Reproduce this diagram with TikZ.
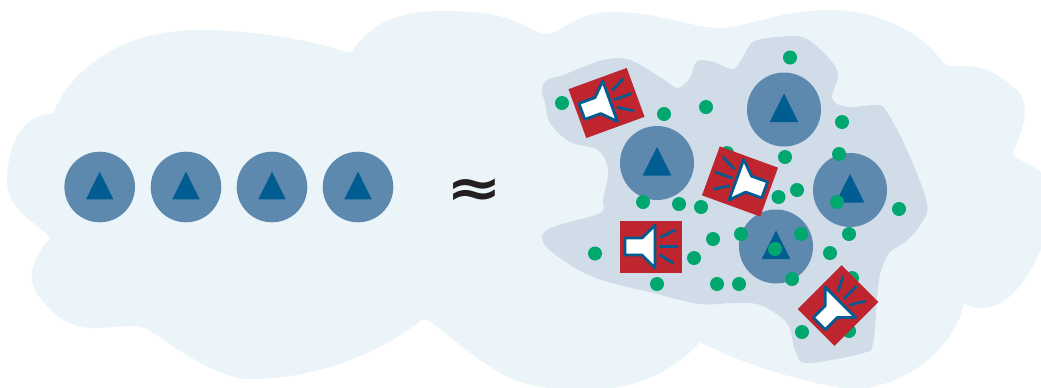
\documentclass[tikz,border=0pt]{standalone}
\usepackage{fontspec}
\newfontfamily\apxfont{DejaVu Sans}[BoldFont={DejaVu Sans Bold}]
\definecolor{cloudc}{HTML}{EAF4F9}
\definecolor{patchc}{HTML}{D0DCE7}
\definecolor{unitc}{HTML}{5E89AF}
\definecolor{triac}{HTML}{005C91}
\definecolor{dotc}{HTML}{00A76F}
\definecolor{boxc}{HTML}{BE252E}
\definecolor{inkc}{HTML}{231F20}
\tikzset{
  unit/.style={circle,fill=unitc,minimum size=70.6*0.75pt,inner sep=0pt,draw=none},
  bigunit/.style={circle,fill=unitc,minimum size=74*0.75pt,inner sep=0pt,draw=none},
  dotn/.style={circle,fill=dotc,minimum size=14*0.75pt,inner sep=0pt,draw=none},
  horn/.style={fill=white,draw=triac,line width=2.1pt,line join=round},
  ray/.style={draw=triac,line width=2pt,line cap=round},
  pics/tri/.style={code={\fill[triac] (0,-16) -- (14.3,12.5) -- (-14.3,12.5) -- cycle;}},
  pics/trismall/.style={code={\fill[triac] (0,-15.3) -- (13.7,12.3) -- (-13.7,12.3) -- cycle;}},
  pics/speaker/.style={code={
    \fill[boxc] (-31,-26) rectangle (31,26);
    \path[horn] (-26,-9) -- (-9,-9) -- (4,-22) -- (4,21) -- (-9,8) -- (-26,8) -- cycle;
    \path[ray] (10,-10) -- (24,-17);
    \path[ray] (9,-0.5) -- (26,-0.5);
    \path[ray] (9,8) -- (22,16);
  }}
}
\begin{document}
\begin{tikzpicture}[x=0.75pt,y=-0.75pt]
\useasboundingbox (0,0) rectangle (1041,387);
\fill[white] (0,0) rectangle (1041,387);
\begin{scope}
\clip (0,0) rectangle (1041,387);
\fill[cloudc] (53,114)
 .. controls (68,75) and (115,30) .. (200,30)
 .. controls (260,30) and (320,43) .. (346,52)
 .. controls (349,53) and (351,53) .. (353,50)
 .. controls (370,25) and (395,11) .. (443,11)
 .. controls (490,11) and (510,18) .. (525,26)
 .. controls (535,31) and (541,34) .. (547,34)
 .. controls (560,34) and (575,12) .. (613,12)
 .. controls (660,12) and (690,28) .. (720,28)
 .. controls (745,28) and (780,10) .. (830,10)
 .. controls (880,10) and (925,35) .. (943,63)
 .. controls (946,67) and (955,66) .. (965,66)
 .. controls (990,66) and (1005,80) .. (1017,90)
 .. controls (1030,105) and (1025,125) .. (1014,150)
 .. controls (1011,157) and (1014,157) .. (1020,160)
 .. controls (1030,165) and (1036,168) .. (1043,174)
 -- (1043,245)
 .. controls (1030,275) and (1010,308) .. (982,308)
 .. controls (976,308) and (970,306) .. (964,304)
 .. controls (955,340) and (925,372) .. (880,385)
 .. controls (865,390) and (850,390) .. (835,387)
 .. controls (790,378) and (740,363) .. (700,342)
 .. controls (670,375) and (630,390) .. (587,390)
 .. controls (560,390) and (535,387) .. (520,382)
 .. controls (485,370) and (445,330) .. (427,320)
 .. controls (425,318) and (423,318) .. (421,320)
 .. controls (385,350) and (320,379) .. (250,379)
 .. controls (215,379) and (170,343) .. (147,329)
 .. controls (135,323) and (115,328) .. (93,328)
 .. controls (65,328) and (50,310) .. (38,295)
 .. controls (27,280) and (30,260) .. (50,239)
 .. controls (45,225) and (7,215) .. (7,180)
 .. controls (7,160) and (15,114) .. (53,114) -- cycle;
\end{scope}
\fill[patchc] plot[smooth cycle,tension=0.55] coordinates {
 (542,90) (547,80) (563,75) (603,60) (630,60) (663,79) (678,88) (690,78) (697,61) (713,62) (733,69)
 (743,57) (753,42) (777,37) (807,39) (837,70) (832,98) (847,107) (877,105) (887,112) (907,150)
 (927,203) (921,224) (905,242) (890,252) (882,268) (878,287) (873,343) (863,353) (807,363) (795,350)
 (787,323) (760,305) (733,303) (700,304) (653,293) (593,277) (553,253) (542,238) (553,227) (600,213)
 (603,200) (608,170) (598,150) (570,142) (550,123) (545,103)};

\foreach \n/\x in {a/99.7,b/186,c/272,d/358}{
  \node[unit] (u\n) at (\x,187) {};
  \pic at (\x,187) {trismall};
}
\foreach \n/\x/\y in {e/657/163,f/784/109.5,g/850/190,h/776/246.5}{
  \node[bigunit] (u\n) at (\x,\y) {};
  \pic at (\x,\y) {tri};
}
\foreach \i/\x/\y in {1/790/57.5,2/562/103,3/664/114,4/706/107,5/842/122,6/727/153,7/785/157,
 8/839/154,9/797/190,10/778.5/197,11/837/202,12/899/209,13/643/202,14/679/204,15/701/207,
 16/741/234,17/801/234,18/713/239,19/849/234,20/830/253,21/775/249,22/595/253.5,23/694/258,
 24/852/278,25/792/279,26/657/284,27/717/284,28/739/284,29/802/332,30/849/331}{
  \node[dotn] (g\i) at (\x,\y) {};
}
\pic[shift={(606.5,103)},rotate=20] {speaker};
\pic[shift={(740,181.5)},rotate=-20,xscale=-1] {speaker};
\pic at (651,247) {speaker};
\pic[shift={(838,305.5)},rotate=45] {speaker};
\node[text=inkc,inner sep=0pt,xscale=1.25] (approx) at (474,192.5) {\apxfont\bfseries\fontsize{40}{40}\selectfont ≈};
\end{tikzpicture}
\end{document}
